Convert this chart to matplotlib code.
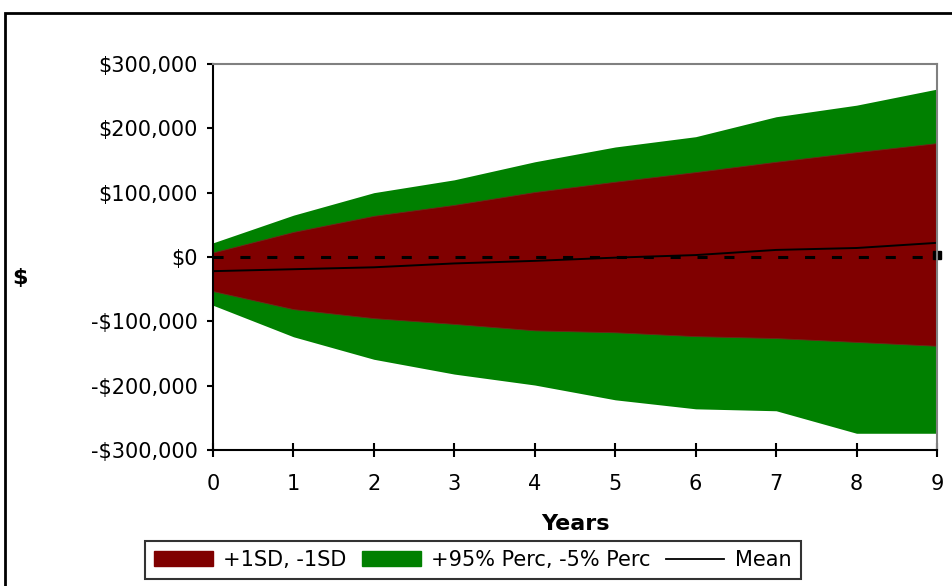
import numpy as np
import matplotlib.pyplot as plt
from matplotlib.patches import Patch, Rectangle
from matplotlib.lines import Line2D
from matplotlib.ticker import FuncFormatter

plt.rcParams['font.family'] = ['DejaVu Sans']

years = [0, 1, 2, 3, 4, 5, 6, 7, 8, 9]
p95 = [22000, 65000, 100000, 120000, 148000, 171000, 187000, 218000, 236000, 261000]
sd_up = [7000, 39000, 64000, 81000, 101000, 117000, 132000, 148000, 163000, 177000]
mean = [-22000, -19000, -16000, -10000, -6000, -1000, 3000, 11000, 14000, 22000]
sd_lo = [-53000, -81000, -95000, -104000, -114000, -117000, -123000, -126000, -132000, -138000]
p5 = [-75000, -124000, -159000, -182000, -199000, -222000, -236000, -239000, -274000, -274000]
zero = [0] * len(years)

red = '#800000'
green = '#008000'

fig = plt.figure(figsize=(9.53, 5.86), dpi=100)
ax = fig.add_axes([213 / 953, 136 / 586, 724 / 953, 386 / 586])

# outer chart border
fig.patches.append(Rectangle((5 / 953, -0.1), 1.2, (586 - 13) / 586 + 0.1,
                             transform=fig.transFigure, fill=False,
                             edgecolor='black', linewidth=2, zorder=0))

ax.fill_between(years, p5, p95, color=green, linewidth=0)
ax.fill_between(years, sd_lo, sd_up, color=red, linewidth=0.6, edgecolor='#6b2a1a')
ax.plot(years, zero, color='black', linewidth=2.2, linestyle=(0, (3.3, 5.5)))
ax.plot([years[-1]], [3000], marker='s', color='black', markersize=6, clip_on=False)
ax.plot(years, mean, color='black', linewidth=1.4)

ax.set_xlim(0, 9)
ax.set_ylim(-300000, 300000)
ax.set_xticks(years)
ax.set_yticks(np.arange(-300000, 300001, 100000))
ax.yaxis.set_major_formatter(FuncFormatter(
    lambda v, p: ('-$' if v < 0 else '$') + format(abs(int(v)), ',')))

for s in ['top', 'right']:
    ax.spines[s].set_color('#808080')
    ax.spines[s].set_linewidth(1.5)
for s in ['left', 'bottom']:
    ax.spines[s].set_color('black')
    ax.spines[s].set_linewidth(1.5)

ax.tick_params(axis='y', direction='out', length=4.5, width=1.5, pad=6.5, labelsize=15)
ax.tick_params(axis='x', direction='inout', length=10, width=1.5, pad=12, labelsize=15)

ax.set_xlabel('Years', fontsize=16, fontweight='bold', labelpad=15)
fig.text(20 / 953, 1 - 278 / 586, '$', fontsize=16, fontweight='bold',
         ha='center', va='center')

handles = [Patch(facecolor=red, edgecolor=red),
           Patch(facecolor=green, edgecolor=green),
           Line2D([], [], color='black', linewidth=1.3)]
labels = ['+1SD, -1SD', '+95% Perc, -5% Perc', 'Mean']
leg = fig.legend(handles, labels, loc='center', bbox_to_anchor=(473 / 953, 26 / 586),
                 ncol=3, fontsize=15, frameon=True, fancybox=False,
                 edgecolor='black', handlelength=2.8, handleheight=0.7,
                 columnspacing=0.75, handletextpad=0.5, borderpad=0.45,
                 borderaxespad=0)
leg.get_frame().set_linewidth(1.5)

fig.savefig('out.png', dpi=100)
